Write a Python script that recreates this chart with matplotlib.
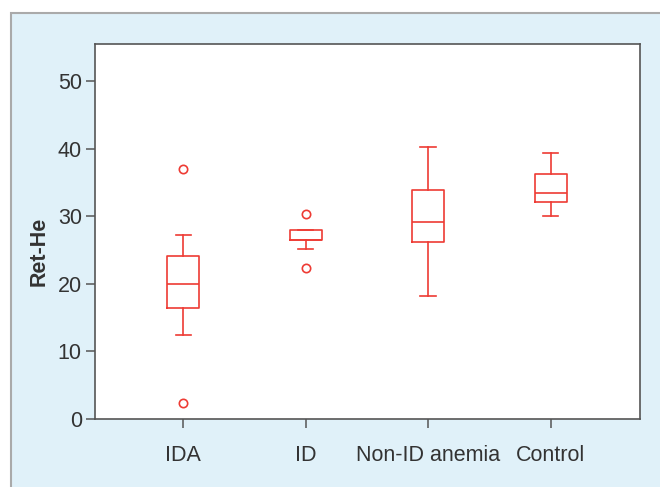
import matplotlib.pyplot as plt
from matplotlib.patches import Rectangle

plt.rcParams['font.family'] = ['Liberation Sans', 'DejaVu Sans']

# Ret-He box plot data
groups = ['IDA', 'ID', 'Non-ID anemia', 'Control']
whislo = [12.5, 25.1, 18.2, 30.1]
q1 = [16.4, 26.5, 26.2, 32.1]
med = [20.0, 26.5, 29.1, 33.4]
q3 = [24.1, 28.0, 33.9, 36.2]
whishi = [27.3, 28.0, 40.2, 39.4]
fliers = [[37.0, 2.3], [30.3, 22.4], [], []]

red = '#ee3b34'
grey = '#555555'
text_c = '#333333'

fig = plt.figure(figsize=(6.6, 4.87), dpi=100)
fig.patch.set_facecolor('white')

# light blue panel with grey border, in a background axes
bg = fig.add_axes([0, 0, 1, 1], zorder=0)
bg.set_axis_off()
bg.set_xlim(0, 660)
bg.set_ylim(487, 0)
bg.add_patch(Rectangle((11, 13), 700, 500, facecolor='#e0f1f9',
                       edgecolor='#aaaaaa', linewidth=1.5))

ax = fig.add_axes([95 / 660, (487 - 419) / 487, 545 / 660, 375 / 487], zorder=1)
ax.set_facecolor('white')

stats = []
for i, g in enumerate(groups):
    stats.append(dict(label=g, whislo=whislo[i], q1=q1[i], med=med[i],
                      q3=q3[i], whishi=whishi[i], fliers=fliers[i]))

ax.bxp(stats, positions=[1, 2, 3, 4], widths=0.26,
       boxprops=dict(color=red, linewidth=1.2),
       medianprops=dict(color=red, linewidth=1.2),
       whiskerprops=dict(color=red, linewidth=1.2),
       capprops=dict(color=red, linewidth=1.2),
       capwidths=0.125,
       flierprops=dict(marker='o', markerfacecolor='none',
                       markeredgecolor=red, markersize=6, markeredgewidth=1.2))

ax.set_xlim(0.28, 4.73)
ax.set_ylim(0, 55.5)
ax.set_yticks([0, 10, 20, 30, 40, 50])

for s in ax.spines.values():
    s.set_color(grey)
    s.set_linewidth(1.2)

ax.tick_params(axis='y', length=6.5, width=1.1, color=grey,
               labelsize=15.5, labelcolor=text_c, pad=3)
ax.tick_params(axis='x', length=6.5, width=1.1, color=grey,
               labelsize=15.5, labelcolor=text_c, pad=12)

ax.set_ylabel('Ret-He', fontsize=15.5, fontweight='bold', color=text_c)
ax.yaxis.set_label_coords(-0.084, 0.447)

fig.savefig('out.png', dpi=100)
